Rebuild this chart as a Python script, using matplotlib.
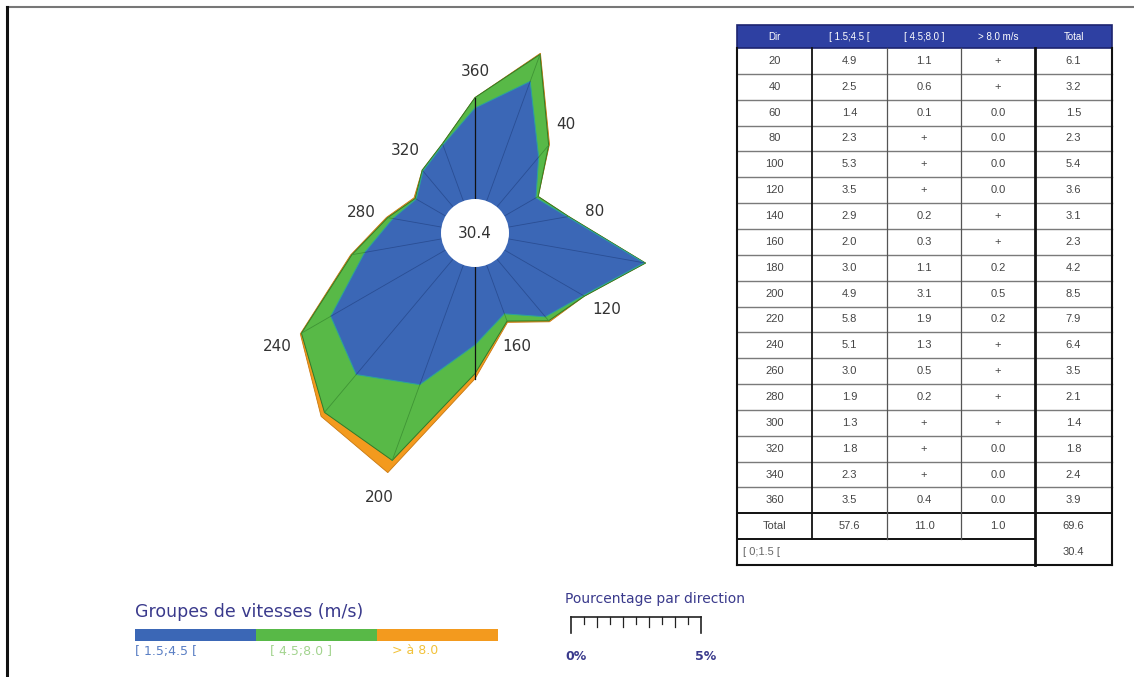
import numpy as np
import matplotlib
matplotlib.use("Agg")
import matplotlib.pyplot as plt
from matplotlib.patches import Rectangle, Circle, Polygon

# ---------------- data ----------------
directions = [20, 40, 60, 80, 100, 120, 140, 160, 180, 200, 220, 240, 260, 280, 300, 320, 340, 360]
speed_1 = ["4.9", "2.5", "1.4", "2.3", "5.3", "3.5", "2.9", "2.0", "3.0", "4.9", "5.8", "5.1", "3.0", "1.9", "1.3", "1.8", "2.3", "3.5"]
speed_2 = ["1.1", "0.6", "0.1", "+", "+", "+", "0.2", "0.3", "1.1", "3.1", "1.9", "1.3", "0.5", "0.2", "+", "+", "+", "0.4"]
speed_3 = ["+", "+", "0.0", "0.0", "0.0", "0.0", "+", "+", "0.2", "0.5", "0.2", "+", "+", "+", "+", "0.0", "0.0", "0.0"]
totals = ["6.1", "3.2", "1.5", "2.3", "5.4", "3.6", "3.1", "2.3", "4.2", "8.5", "7.9", "6.4", "3.5", "2.1", "1.4", "1.8", "2.4", "3.9"]
col_totals = ["57.6", "11.0", "1.0", "69.6"]
calm_label = "[ 0;1.5 ["
calm_value = "30.4"
header = ["Dir", "[ 1.5;4.5 [", "[ 4.5;8.0 ]", "> 8.0 m/s", "Total"]
rose_labels = [40, 80, 120, 160, 200, 240, 280, 320, 360]
legend_labels = ["[ 1.5;4.5 [", "[ 4.5;8.0 ]", "> à 8.0"]
PLUS = 0.05  # value used to draw a "+" (trace) entry


def num(v):
    return PLUS if v == "+" else float(v)


b1 = np.array([num(v) for v in speed_1])
b2 = np.array([num(v) for v in speed_2])
b3 = np.array([num(v) for v in speed_3])

# ---------------- style ----------------
BLUE = "#3b67b6"
GREEN = "#58b947"
ORANGE = "#f39a1e"
NAVY = "#3a3a8c"

W, H = 1134, 677
fig = plt.figure(figsize=(W / 100, H / 100), dpi=100)
fig.patch.set_facecolor("white")

# background axes in pixel coordinates
bg = fig.add_axes([0, 0, 1, 1])
bg.set_xlim(0, W)
bg.set_ylim(H, 0)
bg.axis("off")

# page frame
bg.plot([7, W], [7, 7], color="#777777", lw=1.5)
bg.plot([7, 7], [7, H], color="#111111", lw=2.2)

# ---------------- wind rose ----------------
PX_PER_PCT = 26.0
HOLE = 34.0 / PX_PER_PCT
cx, cy = 475, 233
half = 290
rose = fig.add_axes([(cx - half) / W, (H - cy - half) / H, 2 * half / W, 2 * half / H])
R = half / PX_PER_PCT
rose.set_xlim(-R, R)
rose.set_ylim(-R, R)
rose.axis("off")
rose.patch.set_alpha(0)

th = np.deg2rad(directions)


def xy(r):
    return np.column_stack([r * np.sin(th), r * np.cos(th)])


lvl1 = HOLE + b1
lvl2 = HOLE + b1 + b2
lvl3 = HOLE + b1 + b2 + b3

rose.add_patch(Polygon(xy(lvl3), closed=True, facecolor=ORANGE, edgecolor="#c87810", lw=0.6, zorder=1))
rose.add_patch(Polygon(xy(lvl2), closed=True, facecolor=GREEN, edgecolor="#2f7a2a", lw=0.7, zorder=2))
rose.add_patch(Polygon(xy(lvl1), closed=True, facecolor=BLUE, edgecolor="#2aa0a0", lw=0.7, zorder=3))

for t, r1, r2, r3 in zip(th, lvl1, lvl2, lvl3):
    s, c = np.sin(t), np.cos(t)
    rose.plot([HOLE * s, r1 * s], [HOLE * c, r1 * c], color="#2a4e94", lw=0.6, zorder=4)
    rose.plot([r1 * s, r2 * s], [r1 * c, r2 * c], color="#3f9435", lw=0.6, zorder=4)

# north-south axis line
for d in (360, 180):
    i = directions.index(d)
    t = th[i]
    rose.plot([HOLE * np.sin(t), lvl3[i] * np.sin(t)], [HOLE * np.cos(t), lvl3[i] * np.cos(t)],
              color="#111111", lw=0.9, zorder=5)

rose.add_patch(Circle((0, 0), HOLE, facecolor="white", edgecolor="none", zorder=6))
rose.text(0, 0, calm_value, ha="center", va="center", fontsize=11, color="#333333", zorder=7)

for d in rose_labels:
    i = directions.index(d)
    t = th[i]
    r = lvl3[i] + 1.0
    rose.text(r * np.sin(t), r * np.cos(t), str(d), ha="center", va="center",
              fontsize=11, color="#333333", zorder=7)

# ---------------- table ----------------
xs = [737, 812, 887, 961, 1035, 1112]
y_head_top, y_head_bot = 25, 48
row_h = (565 - 48) / 20.0
n = len(directions)
TF = "Liberation Sans"
TC = "#444444"

bg.add_patch(Rectangle((xs[0], y_head_top), xs[-1] - xs[0], y_head_bot - y_head_top,
                       facecolor="#2e40a2", edgecolor="#1c2470", lw=1.2))
for j, h in enumerate(header):
    bg.text((xs[j] + xs[j + 1]) / 2, (y_head_top + y_head_bot) / 2, h, ha="center", va="center",
            fontsize=7, color="white", family=TF)

rows = [[str(d), a, b, c, t] for d, a, b, c, t in zip(directions, speed_1, speed_2, speed_3, totals)]
rows.append(["Total"] + col_totals)
for i, row in enumerate(rows):
    yc = y_head_bot + (i + 0.5) * row_h
    for j, v in enumerate(row):
        bg.text((xs[j] + xs[j + 1]) / 2, yc, v, ha="center", va="center",
                fontsize=8, color=TC, family=TF)

y_total_top = y_head_bot + n * row_h
y_calm_top = y_total_top + row_h
y_bottom = y_calm_top + row_h
bg.text(xs[0] + 6, y_calm_top + row_h / 2, calm_label, ha="left", va="center",
        fontsize=8, color="#666666", family=TF)
bg.text((xs[4] + xs[5]) / 2, y_calm_top + row_h / 2, calm_value, ha="center", va="center",
        fontsize=8, color=TC, family=TF)

# horizontal row lines
for i in range(1, n):
    y = y_head_bot + i * row_h
    bg.plot([xs[0], xs[-1]], [y, y], color="#7a7a7a", lw=1.0)
bg.plot([xs[0], xs[-1]], [y_total_top, y_total_top], color="#111111", lw=1.4)
bg.plot([xs[0], xs[4]], [y_calm_top, y_calm_top], color="#111111", lw=1.4)
bg.plot([xs[0], xs[-1]], [y_bottom, y_bottom], color="#111111", lw=1.5)
# vertical lines
bg.plot([xs[0], xs[0]], [y_head_bot, y_bottom], color="#111111", lw=1.5)
bg.plot([xs[-1], xs[-1]], [y_head_bot, y_bottom], color="#111111", lw=1.5)
bg.plot([xs[1], xs[1]], [y_head_bot, y_calm_top], color="#111111", lw=1.3)
for x in (xs[2], xs[3]):
    bg.plot([x, x], [y_head_bot, y_calm_top], color="#555555", lw=0.9)
bg.plot([xs[4], xs[4]], [y_head_bot, y_bottom], color="#111111", lw=2.0)

# ---------------- speed legend ----------------
bg.text(135, 612, "Groupes de vitesses (m/s)", ha="left", va="center", fontsize=12.5, color=NAVY)
seg_x = [135, 256, 377, 498]
seg_colors = [BLUE, GREEN, ORANGE]
lab_colors = ["#5a7fc4", "#a3d48f", "#f2c23a"]
for k in range(3):
    bg.add_patch(Rectangle((seg_x[k], 629), seg_x[k + 1] - seg_x[k], 12, facecolor=seg_colors[k],
                           edgecolor="none"))
lab_x = [135, 270, 392]
for k in range(3):
    bg.text(lab_x[k], 651, legend_labels[k], ha="left", va="center", fontsize=9, color=lab_colors[k])

# ---------------- percentage scale ----------------
bg.text(565, 599, "Pourcentage par direction", ha="left", va="center", fontsize=10, color=NAVY)
x0, x5 = 571, 701
bg.plot([x0, x5], [617, 617], color="#222222", lw=1.2)
for k in range(11):
    x = x0 + k * (x5 - x0) / 10
    if k in (0, 10):
        y2 = 633
    elif k % 2 == 0:
        y2 = 627
    else:
        y2 = 624
    bg.plot([x, x], [617, y2], color="#222222", lw=1.2 if k in (0, 10) else 0.9)
bg.text(x0 - 6, 656, "0%", ha="left", va="center", fontsize=9, color=NAVY, fontweight="bold")
bg.text(x5 - 6, 656, "5%", ha="left", va="center", fontsize=9, color=NAVY, fontweight="bold")

fig.savefig("out.png", dpi=100, facecolor="white")
